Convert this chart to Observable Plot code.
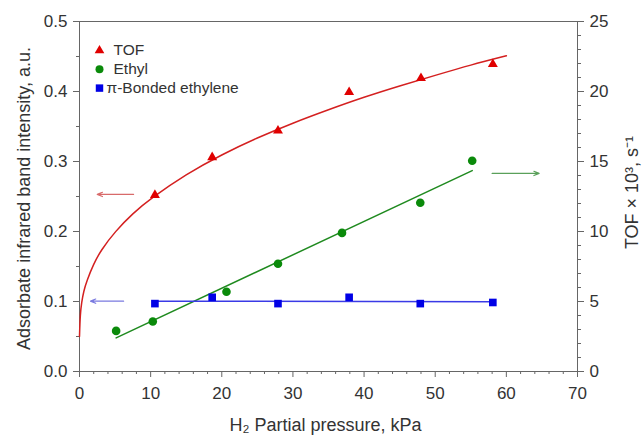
<!DOCTYPE html>
<html>
<head>
<meta charset="utf-8">
<script src="https://cdn.jsdelivr.net/npm/d3@7"></script>
<script src="https://cdn.jsdelivr.net/npm/@observablehq/plot@0.6"></script>
<style>
  html, body { margin: 0; padding: 0; background: #fff; }
  #chart { width: 644px; height: 435px; }
</style>
</head>
<body>
<div id="chart"></div>
<script>
// ---- data ----
// H2 partial pressure, kPa
const pressureTOF = [10.6, 18.65, 27.9, 37.9, 48.0, 58.1];
// TOF, x10^3 s^-1 (right axis)
const tofValues = [12.6, 15.3, 17.2, 19.95, 20.95, 21.95];

const pressureEthyl = [5.15, 10.3, 20.66, 27.9, 36.9, 47.9, 55.2];
// adsorbate band intensity, a.u. (left axis)
const ethylValues = [0.058, 0.0715, 0.114, 0.154, 0.198, 0.241, 0.301];

const pressurePi = [10.6, 18.65, 27.9, 37.9, 47.9, 58.1];
const piValues = [0.097, 0.106, 0.097, 0.106, 0.097, 0.0986];

// fitted curve for TOF (right-axis units)
const tofFitPressure = [0, 0.1, 0.3, 0.6, 1, 2, 3, 5, 7.5, 10, 15, 20, 25, 30, 35, 40, 45, 50, 55, 60];
const tofFitValues  = [2.5, 4.1, 4.95, 5.75, 6.45, 7.7, 8.65, 10.0, 11.3, 12.35, 14.1, 15.5, 16.7, 17.75, 18.7, 19.6, 20.4, 21.15, 21.9, 22.55];

// fitted lines (left-axis units)
const ethylFitPressure = [5.15, 55.2];
const ethylFitValues = [0.048, 0.287];
const piFitPressure = [10.6, 58.1];
const piFitValues = [0.1005, 0.0995];

// axis arrows: which axis each series belongs to
const arrowSeries = ["TOF", "Ethyl", "pi"];
const arrowFromX = [7.6, 58.0, 6.2];
const arrowToX   = [2.5, 64.6, 1.55];
const arrowY     = [0.253, 0.283, 0.1005];

// ticks
const xTicks = [0, 10, 20, 30, 40, 50, 60, 70];
const xMinorTicks = [2,4,6,8,12,14,16,18,22,24,26,28,32,34,36,38,42,44,46,48,52,54,56,58,62,64,66,68];
const yLeftTicks = [0, 0.1, 0.2, 0.3, 0.4, 0.5];
const yLeftMinor = [0.05, 0.15, 0.25, 0.35, 0.45];
const yRightTicks = [0, 5, 10, 15, 20, 25];
const yRightMinor = [1,2,3,4,6,7,8,9,11,12,13,14,16,17,18,19,21,22,23,24];

// legend
const legendLabels = ["TOF", "Ethyl", "\u03c0-Bonded ethylene"];

// right axis (TOF x10^3 s^-1) -> left axis (a.u.) : 25 <-> 0.5
const r2l = v => v / 50;

const seriesColors = { TOF: "#e00000", Ethyl: "#0a8a0a", pi: "#0000e6" };
const lineColors = { TOF: "#d42020", Ethyl: "#1f8a1f", pi: "#3a3ae6" };
const arrowColors = { TOF: "#d86a6a", Ethyl: "#5aa05a", pi: "#7a7ae0" };

const tofPts = pressureTOF.map((x, i) => ({x, y: r2l(tofValues[i])}));
const tofFit = tofFitPressure.map((x, i) => ({x, y: r2l(tofFitValues[i])}));
const ethylPts = pressureEthyl.map((x, i) => ({x, y: ethylValues[i]}));
const ethylFit = ethylFitPressure.map((x, i) => ({x, y: ethylFitValues[i]}));
const piPts = pressurePi.map((x, i) => ({x, y: piValues[i]}));
const piFit = piFitPressure.map((x, i) => ({x, y: piFitValues[i]}));
const arrows = arrowSeries.map((s, i) => ({s, x1: arrowFromX[i], x2: arrowToX[i], y: arrowY[i]}));

const axisColor = "#666";
const textColor = "#333";
const font = "Liberation Sans, Arial, sans-serif";

const legendRows = [
  {label: legendLabels[0], symbol: "triangle", color: seriesColors.TOF, r: 3.6, tx: 34},
  {label: legendLabels[1], symbol: "circle", color: seriesColors.Ethyl, r: 4.0, tx: 34},
  {label: legendLabels[2], symbol: "square", color: seriesColors.pi, r: 4.2, tx: 27}
];

const legendMarks = legendRows.flatMap((d, i) => [
  Plot.dot([d], {frameAnchor: "top-left", dx: 20, dy: 29 + i * 18.8, symbol: d.symbol, r: d.r, fill: d.color, stroke: "none"}),
  Plot.text([d], {frameAnchor: "top-left", dx: d.tx, dy: 29 + i * 18.8, text: "label", textAnchor: "start", lineAnchor: "middle", fontSize: 15.5, fill: textColor})
]);

const chart = Plot.plot({
  width: 644,
  height: 435,
  marginLeft: 79,
  marginRight: 67,
  marginTop: 21,
  marginBottom: 64,
  style: { fontFamily: font, fontSize: "16px", color: textColor, background: "#fff" },
  x: { domain: [0, 70] },
  y: { domain: [0, 0.5] },
  marks: [
    // minor ticks
    Plot.axisX(xMinorTicks, {tickSize: 3, tickFormat: () => "", stroke: axisColor, label: null}),
    Plot.axisY(yLeftMinor, {anchor: "left", tickSize: 3, tickFormat: () => "", stroke: axisColor, label: null}),
    Plot.axisY(yRightMinor.map(r2l), {anchor: "right", tickSize: 3, tickFormat: () => "", stroke: axisColor, label: null}),
    // major ticks
    Plot.axisX(xTicks, {tickSize: 6, tickPadding: 9, tickFormat: d3.format("d"), stroke: axisColor, fill: textColor, fontSize: 17, label: null}),
    Plot.axisY(yLeftTicks, {anchor: "left", tickSize: 6, tickPadding: 6, tickFormat: d3.format(".1f"), stroke: axisColor, fill: textColor, fontSize: 17, label: null}),
    Plot.axisY(yRightTicks.map(r2l), {anchor: "right", tickSize: 6, tickPadding: 6, tickFormat: v => String(Math.round(v * 50)), stroke: axisColor, fill: textColor, fontSize: 17, label: null}),
    Plot.frame({stroke: axisColor}),
    // axis titles
    Plot.text(["Adsorbate infrared band intensity, a.u."], {frameAnchor: "left", dx: -55, dy: 2, rotate: -90, textAnchor: "middle", lineAnchor: "middle", text: d => d, fontSize: 18, fill: textColor}),
    Plot.text(["TOF \u00d7 10\u00b3, s\u207b\u00b9"], {frameAnchor: "right", dx: 55, dy: -4, rotate: -90, textAnchor: "middle", lineAnchor: "middle", text: d => d, fontSize: 18, fill: textColor}),
    Plot.text(["H\u2082 Partial pressure, kPa"], {frameAnchor: "bottom", dx: -3, dy: 54, textAnchor: "middle", lineAnchor: "middle", text: d => d, fontSize: 18, fill: textColor}),
    // fits
    Plot.line(tofFit, {x: "x", y: "y", curve: "basis", stroke: lineColors.TOF, strokeWidth: 1.5}),
    Plot.line(ethylFit, {x: "x", y: "y", stroke: lineColors.Ethyl, strokeWidth: 1.5}),
    Plot.line(piFit, {x: "x", y: "y", stroke: lineColors.pi, strokeWidth: 1.5}),
    // arrows
    Plot.arrow(arrows, {x1: "x1", x2: "x2", y1: "y", y2: "y", stroke: d => arrowColors[d.s], strokeWidth: 1.2, headLength: 7, headAngle: 45}),
    // points
    Plot.dot(tofPts, {x: "x", y: "y", symbol: "triangle", r: 3.7, fill: seriesColors.TOF, stroke: "none"}),
    Plot.dot(ethylPts, {x: "x", y: "y", symbol: "circle", r: 4.3, fill: seriesColors.Ethyl, stroke: "none"}),
    Plot.dot(piPts, {x: "x", y: "y", symbol: "square", r: 4.3, fill: seriesColors.pi, stroke: "none"}),
    ...legendMarks
  ]
});

document.getElementById("chart").appendChild(chart);
</script>
</body>
</html>
